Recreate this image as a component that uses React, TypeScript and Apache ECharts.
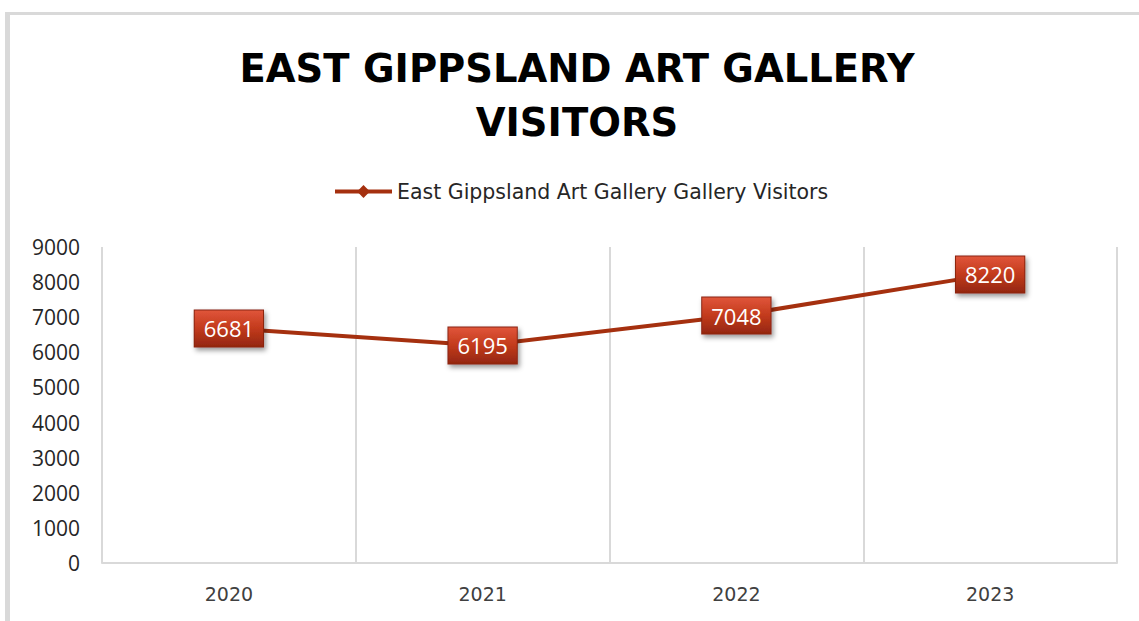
import React, { useEffect, useRef } from "react";
import * as echarts from "echarts";

const titleText = "EAST GIPPSLAND ART GALLERY\nVISITORS";
const seriesName = "East Gippsland Art Gallery Gallery Visitors";
const years = ["2020", "2021", "2022", "2023"];
const visitors = [6681, 6195, 7048, 8220];

export default function App() {
  const ref = useRef<HTMLDivElement>(null);
  useEffect(() => {
    document.body.style.margin = "0";
    const chart = echarts.init(ref.current!, null, { renderer: "svg" });
    chart.setOption({
      animation: false,
      backgroundColor: "#ffffff",
      graphic: [
        { type: "rect", left: 5, top: 12, shape: { width: 5, height: 609 }, style: { fill: "#d9d9d9" } },
        { type: "rect", left: 5, top: 12, shape: { width: 1134, height: 3 }, style: { fill: "#d9d9d9" } },
      ],
      title: {
        text: titleText,
        left: 572,
        textAlign: "center",
        top: 36,
        textStyle: {
          fontFamily: "DejaVu Sans",
          fontWeight: "bold",
          fontSize: 38.5,
          lineHeight: 54,
          color: "#000000",
        },
      },
      legend: {
        top: 181,
        left: 333,
        padding: 0,
        itemWidth: 57,
        itemHeight: 16,
        itemGap: 5,
        lineStyle: { width: 4 },
        textStyle: { fontFamily: "DejaVu Sans", fontSize: 20.5, color: "#262626" },
        data: [seriesName],
      },
      grid: { left: 102, right: 22, top: 247, bottom: 58 },
      xAxis: {
        type: "category",
        data: years,
        boundaryGap: true,
        axisLine: { lineStyle: { color: "#d9d9d9", width: 2 } },
        axisTick: { show: false },
        splitLine: { show: true, lineStyle: { color: "#d9d9d9", width: 2 } },
        axisLabel: {
          fontFamily: "DejaVu Sans",
          fontSize: 19,
          color: "#404040",
          margin: 21,
        },
      },
      yAxis: {
        type: "value",
        min: 0,
        max: 9000,
        interval: 1000,
        axisLine: { show: false },
        axisTick: { show: false },
        splitLine: { show: false },
        axisLabel: {
          fontFamily: "Open Sans",
          fontSize: 21,
          color: "#262626",
          margin: 22,
          formatter: (v: number) => String(v),
        },
      },
      series: [
        {
          name: seriesName,
          type: "line",
          data: visitors,
          symbol: "diamond",
          symbolSize: 14,
          showSymbol: true,
          itemStyle: { color: "#a5300f" },
          lineStyle: { color: "#a5300f", width: 4 },
          label: {
            show: true,
            position: "inside",
            fontFamily: "Open Sans",
            fontSize: 22,
            color: "#ffffff",
            padding: [8, 9, 6, 9],
            backgroundColor: new echarts.graphic.LinearGradient(0, 0, 0, 1, [
              { offset: 0, color: "#e0553a" },
              { offset: 0.5, color: "#c23a1c" },
              { offset: 1, color: "#952710" },
            ]),
            borderColor: "#8a2410",
            borderWidth: 1,
            shadowColor: "rgba(0,0,0,0.4)",
            shadowBlur: 5,
            shadowOffsetX: 2,
            shadowOffsetY: 3,
          },
        },
      ],
    });
    return () => chart.dispose();
  }, []);
  return <div ref={ref} style={{ position: "fixed", left: 0, top: 0, width: 1139, height: 621 }} />;
}
